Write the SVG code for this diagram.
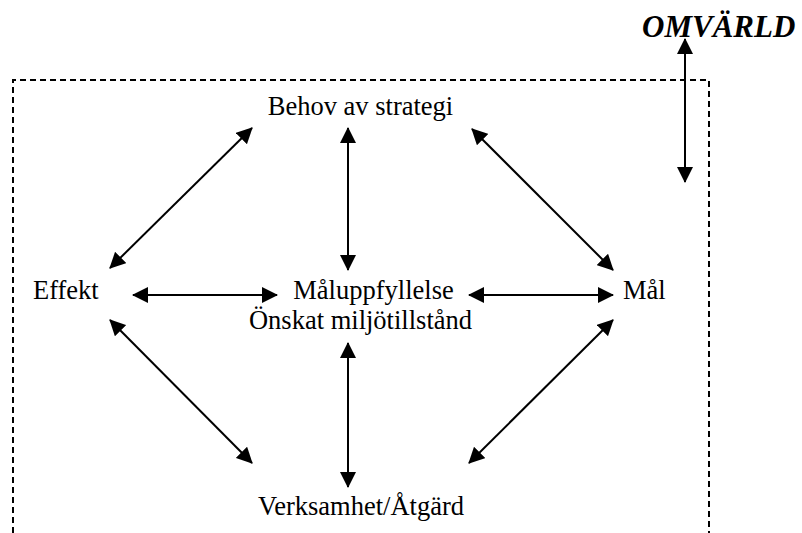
<svg xmlns="http://www.w3.org/2000/svg" width="802" height="533" viewBox="0 0 802 533">
<style>
.lbl{font-family:"Liberation Serif","Times New Roman",serif;font-size:26.5px;fill:#000}
.omv{font-family:"Liberation Serif","Times New Roman",serif;font-size:31px;font-weight:bold;font-style:italic;fill:#000}
.con line{stroke:#000;stroke-width:2;marker-start:url(#ah);marker-end:url(#ah)}
.frame{fill:none;stroke:#000;stroke-width:2;stroke-dasharray:6 4}
</style>
<defs>
<marker id="ah" markerUnits="userSpaceOnUse" markerWidth="16" markerHeight="16" viewBox="0 0 16 16" refX="15" refY="8" orient="auto-start-reverse">
<path d="M0,0 L16,8 L0,16 z" fill="#000"/>
</marker>
</defs>
<rect width="802" height="533" fill="#fff"/>
<path class="frame" d="M13,533 V80 H709 V533"/>
<g id="omvarld"><text class="omv" x="642" y="37">OMVÄRLD</text></g>
<g id="behov"><text class="lbl" x="360.5" y="115" text-anchor="middle">Behov av strategi</text></g>
<g id="effekt"><text class="lbl" x="33" y="299">Effekt</text></g>
<g id="maluppfyllelse"><text class="lbl" x="373.5" y="299" text-anchor="middle">Måluppfyllelse</text><text class="lbl" x="360.5" y="329" text-anchor="middle">Önskat miljötillstånd</text></g>
<g id="mal"><text class="lbl" x="623" y="299">Mål</text></g>
<g id="verksamhet"><text class="lbl" x="361" y="515" text-anchor="middle">Verksamhet/Åtgärd</text></g>
<g id="connectors" class="con">
<line x1="110" y1="268" x2="252" y2="128"/>
<line x1="348" y1="128" x2="348" y2="270"/>
<line x1="472" y1="129" x2="613" y2="270"/>
<line x1="133" y1="295" x2="277" y2="295"/>
<line x1="469" y1="295" x2="613" y2="295"/>
<line x1="110" y1="320" x2="252" y2="463"/>
<line x1="348" y1="343" x2="348" y2="487"/>
<line x1="613" y1="320" x2="469" y2="463"/>
<line x1="685" y1="39" x2="685" y2="182"/>
</g>
</svg>
